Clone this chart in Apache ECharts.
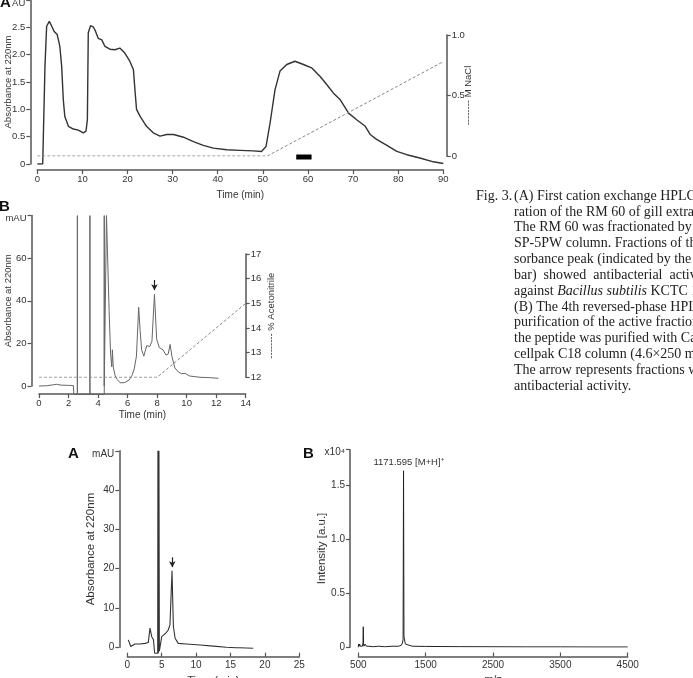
<!DOCTYPE html>
<html>
<head>
<meta charset="utf-8">
<script src="https://cdn.jsdelivr.net/npm/echarts@6/dist/echarts.min.js"></script>
<style>
	html, body { margin: 0; padding: 0; background: #fff; }
	#fig { width: 693px; height: 678px; }
</style>
</head>
<body>
<div id="fig"></div>
<script>
// Fig 3 (A): cation exchange run, absorbance (AU) vs time (min)
var traceA = [
	[0, 0], [1.2, 0], [1.7, 1.79], [2.07, 2.52], [2.66, 2.61], [3.2, 2.52], [3.7, 2.43], [4.4, 2.37],
	[5.0, 2.15], [5.4, 1.79], [5.76, 1.18], [6.1, 0.87], [6.9, 0.69], [8.0, 0.64], [9.1, 0.62],
	[10.2, 0.57], [10.8, 0.6], [11.1, 0.81], [11.3, 2.4], [11.8, 2.53], [12.4, 2.51], [12.9, 2.43],
	[13.5, 2.3], [14.3, 2.27], [15.0, 2.15], [16.1, 2.1], [17.2, 2.09], [18.3, 2.12], [19.4, 2.03],
	[20.5, 1.88], [21.3, 1.73], [21.7, 1.3], [22.0, 1.0], [22.8, 0.87], [24.2, 0.69], [25.7, 0.57],
	[27.2, 0.51], [28.7, 0.54], [30.2, 0.54], [32.4, 0.49], [34.6, 0.41], [36.8, 0.34], [39.0, 0.29],
	[42.0, 0.26], [44.9, 0.25], [47.9, 0.24], [49.7, 0.23], [50.1, 0.22], [50.7, 0.32], [51.6, 0.75],
	[52.7, 1.36], [53.8, 1.7], [55.3, 1.82], [57.1, 1.88], [59.0, 1.82], [60.8, 1.76], [62.7, 1.6],
	[64.2, 1.45], [65.6, 1.3], [67.1, 1.18], [69.0, 0.93], [70.8, 0.81], [72.7, 0.69], [73.8, 0.54],
	[75.2, 0.45], [77.5, 0.34], [79.7, 0.23], [81.9, 0.17], [84.8, 0.11], [87.8, 0.04], [90, 0.01]
];
var naclA = [[0, 0], [51, 0], [90, 0.78]];
var activeBar = [[57.4, 0.13], [60.8, 0.13]];

// Fig 3 (B): 4th reversed-phase run, mAU vs time (min)
var traceB = [
	[0, 0], [0.5, 0.1], [1.0, 0.6], [1.2, 0.8], [1.5, 0.4], [2.0, 0.3], [2.33, 0.2], [2.36, -4],
	[2.6, -4], [2.6, 80], [2.6, -4], [3.45, -4], [3.45, 80], [3.45, -4], [4.42, -4], [4.42, 80],
	[4.42, 0], [4.55, 0], [4.57, 80], [4.64, 80], [4.75, 35], [4.85, 15], [4.93, 9], [4.97, 17],
	[5.03, 9], [5.15, 5], [5.3, 3], [5.5, 1.5], [5.8, 1.6], [6.1, 2.8], [6.3, 5], [6.45, 8],
	[6.6, 14], [6.75, 37], [6.85, 26], [6.95, 17], [7.1, 14], [7.3, 19], [7.5, 18.5], [7.65, 21],
	[7.82, 43], [7.97, 22], [8.15, 18], [8.4, 17], [8.6, 14.5], [8.75, 15], [8.88, 19.5], [9.0, 14],
	[9.2, 8.5], [9.45, 6.5], [9.65, 5.8], [9.9, 5.9], [10.2, 4.7], [10.9, 4.1], [11.6, 3.9], [12.15, 3.6]
];
var acnB = [[0, 12], [8, 12], [14, 15]];
var arrowB = [[7.82, 49.8], [7.82, 45]];

// bottom (A): analytical run, mAU vs time (min)
var traceC = [
	[0.15, 1.9], [0.5, 0.2], [1.1, 0.85], [1.8, 0.85], [2.6, 1.0], [3.05, 1.2], [3.3, 4.9], [3.55, 2.7],
	[3.8, 1.9], [3.92, 2.3], [3.98, -1.5], [4.42, -1.5], [4.45, 50], [4.52, -1.5], [4.58, -1.5], [4.6, 50],
	[4.66, -1.0], [4.8, -1.1], [5.0, 2.7], [5.25, 3.2], [5.6, 3.6], [5.95, 4.4], [6.2, 5.7], [6.35, 5.3],
	[6.5, 19.5], [6.6, 12], [6.7, 5.3], [6.95, 2.3], [7.4, 1.0], [8.6, 0.85], [10.6, 0.6], [12.5, 0.3],
	[14.4, 0.0], [15.8, -0.1], [16.0, 0.1], [16.3, -0.1], [18.3, -0.25]
];
var arrowC = [[6.54, 22.9], [6.54, 20.4]];

// bottom (B): MALDI spectrum, intensity (x10^4) vs m/z
var spectrum = [
	[500, 0.0], [505, 0.03], [512, 0.01], [520, 0.03], [530, 0.01], [545, 0.02], [560, 0.01], [570, 0.04],
	[574, 0.19], [578, 0.03], [585, 0.01], [600, 0.03], [620, 0.01], [640, 0.02], [660, 0.01], [680, 0.02],
	[720, 0.005], [800, 0.01], [900, 0.005], [1000, 0.01], [1100, 0.01], [1140, 0.02], [1155, 0.04],
	[1165, 0.07], [1171.6, 1.635], [1178, 0.1], [1185, 0.08], [1192, 0.05], [1200, 0.03], [1220, 0.015],
	[1300, 0.01], [1500, 0.008], [2000, 0.006], [2500, 0.005], [3000, 0.004], [3500, 0.004],
	[4000, 0.003], [4500, 0.003]
];
var peakLabel = '1171.595 [M+H]\u207A';

var topUnits = ['AU', 'mAU', 'mAU', 'x10\u2074'];

var captionLines = [
	'(A) First cation exchange HPLC sepa-',
	'ration of the RM 60 of gill extract.',
	'The RM 60 was fractionated by a',
	'SP-5PW column. Fractions of the ab-',
	'sorbance peak (indicated by the black',
	'bar)  showed  antibacterial  activity',
	'against {i|Bacillus subtilis} KCTC 1021',
	'(B) The 4th reversed-phase HPLC',
	'purification of the active fraction',
	'the peptide was purified with Cap-',
	'cellpak C18 column (4.6\u00D7250 mm).',
	'The arrow represents fractions with',
	'antibacterial activity.'
];

var AXC = '#555';
var TXT = '#333';
var SANS = 'Liberation Sans, Arial, sans-serif';
var SERIF = 'Liberation Serif, Times New Roman, serif';

function xAx(grid, min, max, interval, offset, name, gap, fs, nfs, inside) {
	return {
		type: 'value', gridIndex: grid, min: min, max: max, interval: interval,
		offset: offset, name: name, nameLocation: 'middle', nameGap: gap, nameMoveOverlap: false,
		nameTextStyle: { fontFamily: SANS, fontSize: nfs, color: TXT },
		axisLine: { onZero: false, lineStyle: { color: AXC, width: 1.5 } },
		axisTick: { length: 4, inside: !!inside, lineStyle: { color: AXC, width: 1.2 } },
		axisLabel: {
			margin: 4, fontFamily: SANS, fontSize: fs, color: TXT,
			formatter: function (v) { return String(v); }
		},
		splitLine: { show: false }
	};
}
function yAx(grid, min, max, interval, offset, name, gap, fs, nfs, pos, fmt) {
	return {
		type: 'value', gridIndex: grid, min: min, max: max, interval: interval, position: pos,
		offset: offset, name: name, nameLocation: 'middle', nameGap: gap, nameRotate: 90,
		nameMoveOverlap: false,
		nameTextStyle: { fontFamily: SANS, fontSize: nfs, color: TXT },
		axisLine: { onZero: false, lineStyle: { color: AXC, width: 1.5 } },
		axisTick: { length: 4, lineStyle: { color: AXC, width: 1.2 } },
		axisLabel: {
			margin: 5, fontFamily: SANS, fontSize: fs, color: TXT, formatter: fmt,
			rich: { u: { fontFamily: SANS, fontSize: fs, color: TXT, padding: [6, 0, 0, 0] } }
		},
		splitLine: { show: false }
	};
}
function hidden(grid, min, max) {
	return { type: 'value', gridIndex: grid, min: min, max: max, show: false, splitLine: { show: false } };
}
function unitFmt(max, unit, dec) {
	return function (v) {
		if (Math.abs(v - max) < 1e-6) return '{u|' + unit + '}';
		if (v === 0) return '0';
		return v.toFixed(dec);
	};
}

var chart = echarts.init(document.getElementById('fig'), null, { renderer: 'canvas' });

var captionGraphics = [{
	type: 'text', left: 476, top: 189,
	style: { text: 'Fig. 3.', font: '14px ' + SERIF, fill: '#222' }
}];
captionLines.forEach(function (line, i) {
	captionGraphics.push({
		type: 'text', left: 514, top: 189 + i * 15.85,
		style: {
			text: line, font: '14px ' + SERIF, fill: '#222',
			rich: { i: { fontStyle: 'italic', fontFamily: SERIF, fontSize: 14, fill: '#222' } }
		}
	});
});

var letters = [
	{ t: 'A', x: 0, y: -5 },
	{ t: 'B', x: -1, y: 199 },
	{ t: 'A', x: 68, y: 446 },
	{ t: 'B', x: 303, y: 446 }
].map(function (l) {
	return {
		type: 'text', left: l.x, top: l.y,
		style: { text: l.t, font: 'bold 15px ' + SANS, fill: '#111' }
	};
});

function grid(left, top, width, height) {
	return { left: left, top: top, width: width, height: height, outerBoundsMode: 'none', containLabel: false };
}

var option = {
	animation: false,
	backgroundColor: '#fff',
	grid: [
		grid(37.3, 0, 406, 164),
		grid(37.3, 35, 406, 121),
		grid(39, 215.6, 206.7, 170.4),
		grid(39, 254, 206.7, 123.3),
		grid(127.3, 450.8, 172, 196.5),
		grid(358.3, 449.7, 269.4, 197.6)
	],
	xAxis: [
		xAx(0, 0, 90, 10, 6, 'Time (min)', 20, 9.5, 10),
		hidden(1, 0, 90),
		xAx(2, 0, 14, 2, 8, 'Time (min)', 16, 9.5, 10),
		hidden(3, 0, 14),
		xAx(4, 0, 25, 5, 9.4, 'Time (min)', 18.3, 10, 11, true),
		xAx(5, 500, 4500, 1000, 9.2, 'm/z', 17.5, 10, 11, true)
	],
	yAxis: [
		yAx(0, 0, 3, 0.5, 7, 'Absorbance at 220nm', 17, 9.5, 9.5, 'left', unitFmt(3, topUnits[0], 1)),
		yAx(1, 0, 1, 0.5, 3.4, '-------- M NaCl', 17, 9.5, 9.5, 'right', unitFmt(99, '', 1)),
		yAx(2, 0, 80, 20, 7.5, 'Absorbance at 220nm', 18, 9.5, 9.5, 'left', unitFmt(80, topUnits[1], 0)),
		yAx(3, 12, 17, 1, 0, '-------- % Acetonitrile', 21, 9.5, 9.5, 'right', unitFmt(99, '', 0)),
		yAx(4, 0, 50, 10, 8, 'Absorbance at 220nm', 22.6, 10, 11.5, 'left', unitFmt(50, topUnits[2], 0)),
		yAx(5, 0, 1.83, 0.5, 8.3, 'Intensity [a.u.]', 21.7, 10, 11.5, 'left', unitFmt(1.83, topUnits[3], 1))
	],
	series: [
		{
			type: 'line', xAxisIndex: 0, yAxisIndex: 0, data: traceA, showSymbol: false,
			lineStyle: { color: '#333', width: 1.4 }
		},
		{
			type: 'line', xAxisIndex: 0, yAxisIndex: 0, data: activeBar, showSymbol: false,
			lineStyle: { color: '#000', width: 5 }
		},
		{
			type: 'line', xAxisIndex: 1, yAxisIndex: 1, data: naclA, showSymbol: false,
			lineStyle: { color: '#888', width: 1, type: [3, 2] }
		},
		{
			type: 'line', xAxisIndex: 2, yAxisIndex: 2, data: traceB, showSymbol: false, clip: false,
			lineStyle: { color: '#666', width: 1 },
			markLine: {
				silent: true, symbol: ['none', 'arrow'], symbolSize: [5, 6],
				lineStyle: { color: '#222', width: 1.2, type: 'solid' }, label: { show: false },
				data: [[{ coord: arrowB[0] }, { coord: arrowB[1] }]]
			}
		},
		{
			type: 'line', xAxisIndex: 3, yAxisIndex: 3, data: acnB, showSymbol: false,
			lineStyle: { color: '#888', width: 1, type: [3, 2] }
		},
		{
			type: 'line', xAxisIndex: 4, yAxisIndex: 4, data: traceC, showSymbol: false, clip: false,
			lineStyle: { color: '#333', width: 1.1 },
			markLine: {
				silent: true, symbol: ['none', 'arrow'], symbolSize: [5, 6],
				lineStyle: { color: '#222', width: 1.2, type: 'solid' }, label: { show: false },
				data: [[{ coord: arrowC[0] }, { coord: arrowC[1] }]]
			}
		},
		{
			type: 'line', xAxisIndex: 5, yAxisIndex: 5, data: spectrum, showSymbol: false,
			lineStyle: { color: '#222', width: 1 },
			markPoint: {
				symbol: 'circle', symbolSize: 0, silent: true,
				label: {
					show: true, position: 'top', distance: 3, offset: [5, 0],
					formatter: peakLabel, fontFamily: SANS, fontSize: 9.5, color: TXT
				},
				data: [{ coord: spectrum[24] }]
			}
		}
	],
	graphic: letters.concat(captionGraphics)
};

chart.setOption(option);
</script>
</body>
</html>
